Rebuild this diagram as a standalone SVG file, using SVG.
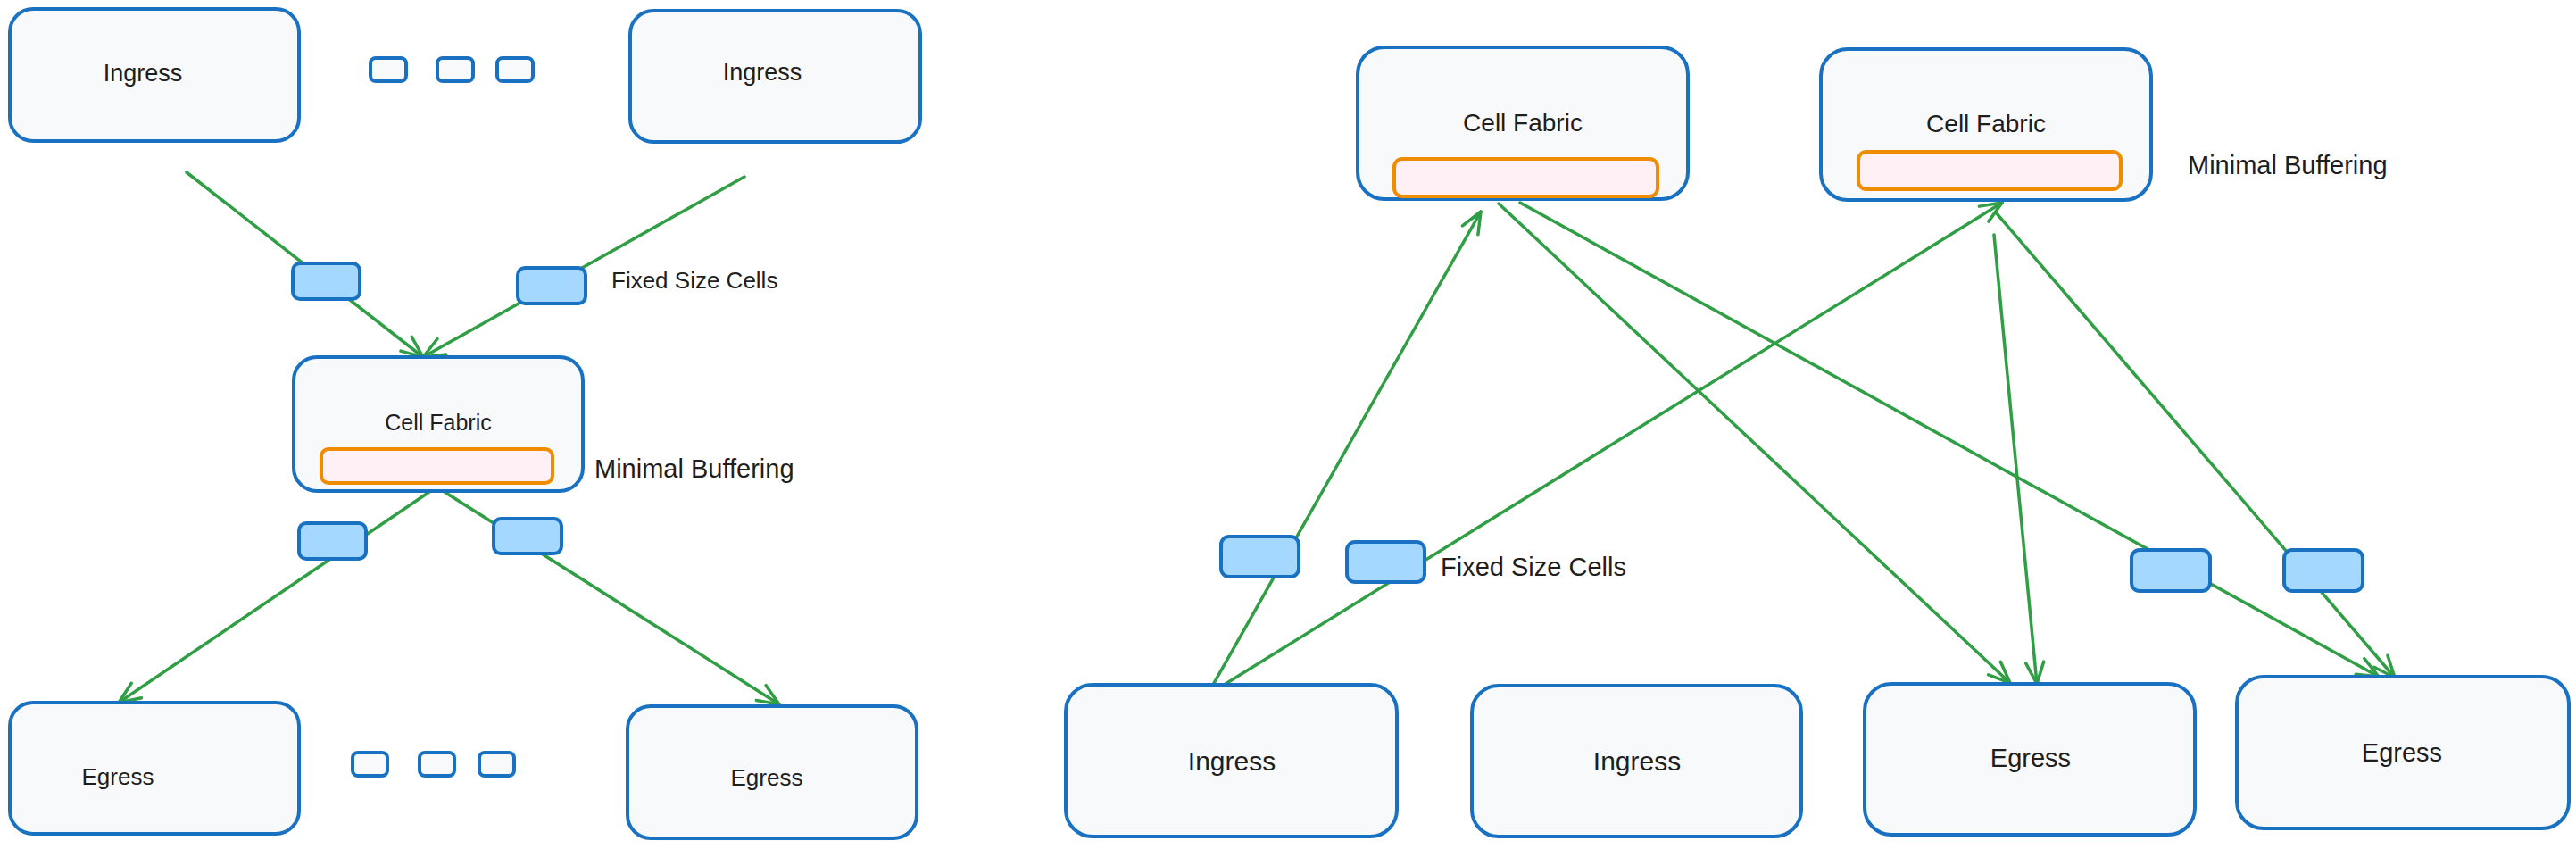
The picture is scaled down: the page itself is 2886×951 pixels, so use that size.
<svg xmlns="http://www.w3.org/2000/svg" width="2886" height="951" viewBox="0 0 2886 951">
<style>
.box{fill:#f8f9fa;stroke:#1971c2;stroke-width:4}
.cell{fill:#a5d8ff;stroke:#1971c2;stroke-width:4}
.dot{fill:#f8f9fa;stroke:#1971c2;stroke-width:4}
.buf{fill:#fff0f6;stroke:#f08c00;stroke-width:4}
.conn{fill:none;stroke:#2f9e44;stroke-width:3.5;stroke-linecap:round}
.t{font-family:"Liberation Sans",Arial,sans-serif;fill:#1e1e1e;dominant-baseline:central}
.c{text-anchor:middle}
</style>
<defs>
<marker id="arr" markerUnits="userSpaceOnUse" markerWidth="34" markerHeight="34" viewBox="-30 -17 34 34" refX="0" refY="0" orient="auto">
<path d="M-24,-10 L0,0 L-24,10" fill="none" stroke="#2f9e44" stroke-width="3.5" stroke-linecap="round" stroke-linejoin="round"/>
</marker>
</defs>
<rect width="2886" height="951" fill="#ffffff"/>
<g id="connectors">
<line class="conn" x1="209" y1="193" x2="474" y2="400" marker-end="url(#arr)"/>
<line class="conn" x1="834" y1="198" x2="474" y2="400" marker-end="url(#arr)"/>
<line class="conn" x1="481" y1="551" x2="133" y2="787" marker-end="url(#arr)"/>
<line class="conn" x1="498" y1="551" x2="873" y2="789" marker-end="url(#arr)"/>
<line class="conn" x1="1359" y1="767" x2="1659" y2="237" marker-end="url(#arr)"/>
<line class="conn" x1="1373" y1="766" x2="2243" y2="227" marker-end="url(#arr)"/>
<line class="conn" x1="1679" y1="228" x2="2252" y2="765" marker-end="url(#arr)"/>
<line class="conn" x1="1703" y1="227" x2="2665" y2="758" marker-end="url(#arr)"/>
<line class="conn" x1="2234" y1="263" x2="2282" y2="766" marker-end="url(#arr)"/>
<line class="conn" x1="2236" y1="238" x2="2683" y2="759" marker-end="url(#arr)"/>
</g>
<g id="ingress-l1"><rect class="box" x="11" y="10" width="324" height="148" rx="26"/><text class="t c" x="160" y="82" font-size="27">Ingress</text></g>
<g id="ingress-l2"><rect class="box" x="706" y="12" width="325" height="147" rx="26"/><text class="t c" x="854" y="81" font-size="27">Ingress</text></g>
<g id="dots-top">
<rect class="dot" x="415" y="65" width="40" height="26" rx="6"/>
<rect class="dot" x="490" y="65" width="40" height="26" rx="6"/>
<rect class="dot" x="557" y="65" width="40" height="26" rx="6"/>
</g>
<g id="cell-l1"><rect class="cell" x="328" y="295" width="75" height="40" rx="8"/></g>
<g id="cell-l2"><rect class="cell" x="580" y="300" width="76" height="40" rx="8"/></g>
<text id="fixed-l" class="t" x="685" y="314" font-size="26">Fixed Size Cells</text>
<g id="fabric-l"><rect class="box" x="329" y="400" width="324" height="150" rx="26"/><text class="t c" x="491" y="473" font-size="25">Cell Fabric</text><rect class="buf" x="360" y="503" width="259" height="38" rx="8"/></g>
<text id="minbuf-l" class="t" x="666" y="525" font-size="29">Minimal Buffering</text>
<g id="cell-l3"><rect class="cell" x="335" y="586" width="75" height="40" rx="8"/></g>
<g id="cell-l4"><rect class="cell" x="553" y="581" width="76" height="39" rx="8"/></g>
<g id="egress-l1"><rect class="box" x="11" y="787" width="324" height="147" rx="26"/><text class="t c" x="132" y="870" font-size="26">Egress</text></g>
<g id="egress-l2"><rect class="box" x="703" y="791" width="324" height="148" rx="26"/><text class="t c" x="859" y="871" font-size="26">Egress</text></g>
<g id="dots-bottom">
<rect class="dot" x="395" y="843" width="39" height="26" rx="6"/>
<rect class="dot" x="470" y="843" width="39" height="26" rx="6"/>
<rect class="dot" x="537" y="843" width="39" height="26" rx="6"/>
</g>
<g id="fabric-r1"><rect class="box" x="1521" y="53" width="370" height="170" rx="30"/><text class="t c" x="1706" y="137" font-size="28">Cell Fabric</text><rect class="buf" x="1562" y="178" width="295" height="42" rx="9"/></g>
<g id="fabric-r2"><rect class="box" x="2040" y="55" width="370" height="169" rx="30"/><text class="t c" x="2225" y="138" font-size="28">Cell Fabric</text><rect class="buf" x="2082" y="170" width="294" height="42" rx="9"/></g>
<text id="minbuf-r" class="t" x="2451" y="185" font-size="29">Minimal Buffering</text>
<g id="cell-r1"><rect class="cell" x="1368" y="601" width="87" height="45" rx="9"/></g>
<g id="cell-r2"><rect class="cell" x="1509" y="607" width="87" height="45" rx="9"/></g>
<text id="fixed-r" class="t" x="1614" y="635" font-size="29">Fixed Size Cells</text>
<g id="cell-r3"><rect class="cell" x="2388" y="616" width="88" height="46" rx="9"/></g>
<g id="cell-r4"><rect class="cell" x="2559" y="616" width="88" height="46" rx="9"/></g>
<g id="ingress-r1"><rect class="box" x="1194" y="767" width="371" height="170" rx="30"/><text class="t c" x="1380" y="852" font-size="30">Ingress</text></g>
<g id="ingress-r2"><rect class="box" x="1649" y="768" width="369" height="169" rx="30"/><text class="t c" x="1834" y="852" font-size="30">Ingress</text></g>
<g id="egress-r1"><rect class="box" x="2089" y="766" width="370" height="169" rx="30"/><text class="t c" x="2275" y="849" font-size="29">Egress</text></g>
<g id="egress-r2"><rect class="box" x="2506" y="758" width="372" height="170" rx="30"/><text class="t c" x="2691" y="843" font-size="29">Egress</text></g>
</svg>
